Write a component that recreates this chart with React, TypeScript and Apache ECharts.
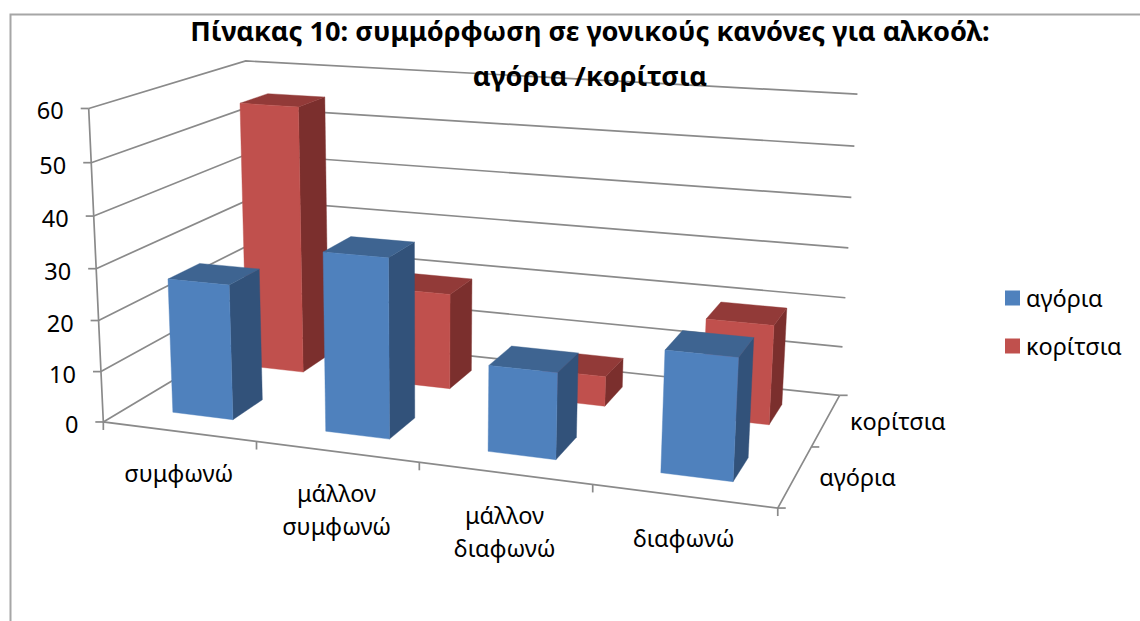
import React, { useEffect, useRef } from "react";
import * as echarts from "echarts";

const titleText = "Πίνακας 10: συμμόρφωση σε γονικούς κανόνες για αλκοόλ:\nαγόρια /κορίτσια";
const categories = ["συμφωνώ", "μάλλον\nσυμφωνώ", "μάλλον\nδιαφωνώ", "διαφωνώ"];
const depthLabels = ["αγόρια", "κορίτσια"];
const boys = [26.5, 34.5, 16.3, 22.5];
const girls = [55, 19.5, 6, 19.5];
const yTicks = [0, 10, 20, 30, 40, 50, 60];

const FONT = "Noto Sans";
const GRID = "#8a8a8a";
const TEXT = "#000000";

// camera: the eight corners of the plot box (u along categories, v up, w into depth)
const corners: [number, number, number, number, number][] = [
  [0, 0, 0, 104.7, 421.7],
  [1, 0, 0, 778, 508.3],
  [1, 0, 1, 839.8, 395],
  [0, 0, 1, 251, 333],
  [0, 1, 0, 87.3, 108.3],
  [1, 1, 0, 795.5, 155],
  [1, 1, 1, 857.3, 94],
  [0, 1, 1, 247.3, 61],
];

function solveCamera(): number[] {
  const rows: number[][] = [];
  const rhs: number[] = [];
  for (const [u, v, w, px, py] of corners) {
    const x = px / 1000;
    const y = py / 1000;
    rows.push([u, v, w, 1, 0, 0, 0, 0, -x * u, -x * v, -x * w]);
    rhs.push(x);
    rows.push([0, 0, 0, 0, u, v, w, 1, -y * u, -y * v, -y * w]);
    rhs.push(y);
  }
  const n = 11;
  const a: number[][] = [];
  for (let i = 0; i < n; i++) {
    const r = new Array(n + 1).fill(0);
    rows.forEach((row, k) => {
      for (let j = 0; j < n; j++) r[j] += row[i] * row[j];
      r[n] += row[i] * rhs[k];
    });
    a.push(r);
  }
  for (let i = 0; i < n; i++) {
    let p = i;
    for (let k = i + 1; k < n; k++) if (Math.abs(a[k][i]) > Math.abs(a[p][i])) p = k;
    [a[i], a[p]] = [a[p], a[i]];
    for (let k = 0; k < n; k++) {
      if (k === i) continue;
      const f = a[k][i] / a[i][i];
      for (let j = i; j <= n; j++) a[k][j] -= f * a[i][j];
    }
  }
  return a.map((r, i) => r[n] / r[i]);
}
const cam = solveCamera();
function project(u: number, v: number, w: number): number[] {
  const d = cam[8] * u + cam[9] * v + cam[10] * w + 1;
  return [
    (1000 * (cam[0] * u + cam[1] * v + cam[2] * w + cam[3])) / d,
    (1000 * (cam[4] * u + cam[5] * v + cam[6] * w + cam[7])) / d,
  ];
}

// pixel on the hidden cartesian grid -> normalised box coordinates
function boxOf(params: any, api: any, cat: number, val: number) {
  const cs = params.coordSys;
  const p = api.coord([cat, val]);
  return { u: (p[0] - cs.x) / cs.width, v: (cs.y + cs.height - p[1]) / cs.height, band: api.size([1, 0])[0] / cs.width };
}

const line = (pts: number[][], width = 1.7) => ({
  type: "polyline",
  shape: { points: pts },
  style: { stroke: GRID, lineWidth: width, fill: "none" },
});
const label = (text: string, x: number, y: number, align: string, vAlign: string) => ({
  type: "text",
  style: { text, x, y, align, verticalAlign: vAlign, fontFamily: FONT, fontSize: 23.5, lineHeight: 33, fill: TEXT },
});

function barRenderer(row: number, front: string, top: string, side: string) {
  return (params: any, api: any) => {
    const cat = api.value(0);
    const val = api.value(1);
    const b = boxOf(params, api, cat, val);
    const u0 = b.u - b.band * 0.2;
    const u1 = b.u + b.band * 0.2;
    const w0 = (row + 0.3) / 2;
    const w1 = (row + 0.7) / 2;
    const poly = (pts: number[][], fill: string) => ({
      type: "polygon",
      shape: { points: pts },
      style: { fill, stroke: fill, lineWidth: 0.4 },
    });
    return {
      type: "group",
      children: [
        poly([project(u1, 0, w0), project(u1, 0, w1), project(u1, b.v, w1), project(u1, b.v, w0)], side),
        poly([project(u0, b.v, w0), project(u1, b.v, w0), project(u1, b.v, w1), project(u0, b.v, w1)], top),
        poly([project(u0, 0, w0), project(u1, 0, w0), project(u1, b.v, w0), project(u0, b.v, w0)], front),
      ],
    };
  };
}

const renderWall = (params: any, api: any) => {
  const b = boxOf(params, api, 0, api.value(1));
  const p0 = project(0, b.v, 0);
  return {
    type: "group",
    children: [
      line([p0, project(0, b.v, 1), project(1, b.v, 1)]),
      line([[p0[0] - 8, p0[1]], p0]),
      label(String(api.value(1)), p0[0] - 25, p0[1] + 2, "right", "middle"),
    ],
  };
};

const renderCategory = (params: any, api: any) => {
  const i = api.value(0);
  const b = boxOf(params, api, i, 0);
  const end = project(b.u + b.band / 2, 0, 0);
  const mid = project(b.u, 0, 0);
  return {
    type: "group",
    children: [
      line([end, [end[0], end[1] + 8]]),
      label(categories[i], mid[0], mid[1] + 25, "center", "top"),
    ],
  };
};

const renderDepth = (_params: any, api: any) => {
  const i = api.value(0);
  const end = project(1, 0, (i + 1) / 2);
  const mid = project(1, 0, (i + 0.5) / 2);
  return {
    type: "group",
    children: [line([end, [end[0] + 8, end[1]]]), label(depthLabels[i], mid[0] + 24, mid[1] + 1, "left", "middle")],
  };
};

const renderFloor = (_params: any, _api: any) => {
  const a = project(0, 0, 0);
  return {
    type: "group",
    children: [
      line([project(0, 1, 0), a, project(1, 0, 0), project(1, 0, 1)]),
      line([a, [a[0], a[1] + 8]]),
      line([project(1, 0, 0), [project(1, 0, 0)[0] + 8, project(1, 0, 0)[1]]]),
    ],
  };
};

export default function App() {
  const ref = useRef<HTMLDivElement>(null);
  useEffect(() => {
    document.body.style.margin = "0";
    document.body.style.overflow = "hidden";
    const chart = echarts.init(ref.current!, undefined, { renderer: "svg" });
    const base = { type: "custom", coordinateSystem: "cartesian2d", silent: true, clip: false };
    chart.setOption({
      animation: false,
      backgroundColor: "#ffffff",
      title: {
        text: titleText,
        left: 585,
        top: 3,
        textAlign: "center",
        textStyle: { fontFamily: FONT, fontSize: 27.2, fontWeight: "bold", color: TEXT, lineHeight: 45 },
      },
      legend: {
        orient: "vertical",
        left: 1000,
        top: 281,
        itemWidth: 15,
        itemHeight: 15,
        itemGap: 24,
        icon: "rect",
        data: depthLabels,
        textStyle: { fontFamily: FONT, fontSize: 23.5, color: TEXT, padding: [0, 0, 0, 1] },
      },
      grid: { left: 100, top: 100, width: 800, height: 400, show: false },
      xAxis: { type: "category", data: categories, show: false },
      yAxis: { type: "value", min: 0, max: 60, interval: 10, show: false },
      graphic: [
        {
          type: "polyline",
          shape: { points: [[10.5, 621], [10.5, 14.5], [1140, 14.5]] },
          style: { stroke: "#a6a6a6", lineWidth: 2, fill: "none" },
        },
      ],
      series: [
        { ...base, name: "wall", data: yTicks.map((t) => [0, t]), renderItem: renderWall, encode: { x: 0, y: 1 }, z: 1 },
        { ...base, name: "floor", data: [[0, 0]], renderItem: renderFloor, encode: { x: 0, y: 1 }, z: 1 },
        { ...base, name: "catAxis", data: categories.map((_, i) => [i, 0]), renderItem: renderCategory, encode: { x: 0, y: 1 }, z: 1 },
        { ...base, name: "depthAxis", data: depthLabels.map((_, i) => [i, 0]), renderItem: renderDepth, encode: { x: 0, y: 1 }, z: 1 },
        {
          ...base,
          name: depthLabels[1],
          itemStyle: { color: "#C0504D" },
          data: girls.map((v, i) => [i, v]),
          renderItem: barRenderer(1, "#C0504D", "#923A38", "#7B2F2D"),
          encode: { x: 0, y: 1 },
          z: 2,
        },
        {
          ...base,
          name: depthLabels[0],
          itemStyle: { color: "#4F81BD" },
          data: boys.map((v, i) => [i, v]),
          renderItem: barRenderer(0, "#4F81BD", "#3E6491", "#32527A"),
          encode: { x: 0, y: 1 },
          z: 3,
        },
      ],
    });
    return () => chart.dispose();
  }, []);
  return <div ref={ref} style={{ position: "absolute", left: 0, top: 0, width: 1140, height: 621 }} />;
}
